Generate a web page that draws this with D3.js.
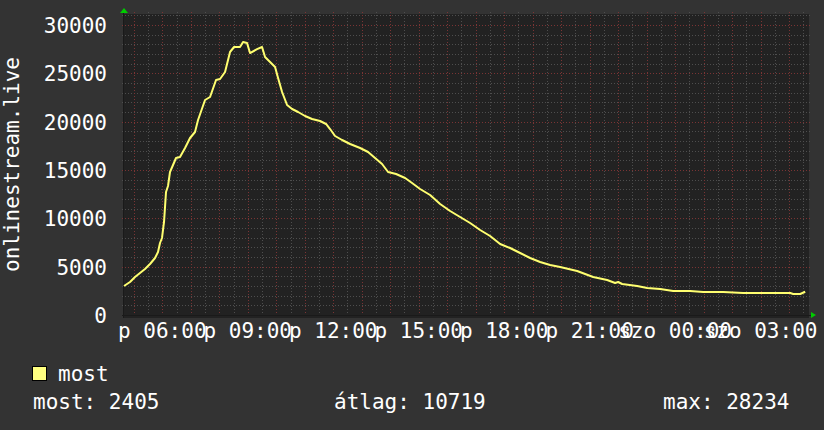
<!DOCTYPE html>
<html>
<head>
<meta charset="utf-8">
<script src="https://cdn.jsdelivr.net/npm/d3@7"></script>
<style>
  html, body { margin: 0; padding: 0; background: #333333; }
  svg { display: block; }
  text { font-family: "DejaVu Sans Mono", monospace; fill: #ffffff; }
</style>
</head>
<body>
<svg id="chart" width="824" height="430"></svg>
<script>
// ---- data ----
// time in hours since Friday 00:00 (values > 24 are Saturday)
const hours = [4.655, 4.866, 5.041, 5.217, 5.392, 5.568, 5.744, 5.849, 5.919, 5.989,
  6.060, 6.130, 6.200, 6.270, 6.376, 6.481, 6.621, 6.797, 6.973, 7.148,
  7.254, 7.500, 7.675, 7.886, 8.026, 8.202, 8.377, 8.518, 8.728, 8.834,
  8.974, 9.079, 9.325, 9.501, 9.606, 9.782, 9.958, 10.063, 10.204, 10.379,
  10.555, 10.766, 11.010, 11.256, 11.537, 11.748, 11.888, 12.064, 12.310, 12.591,
  12.942, 13.222, 13.468, 13.714, 13.925, 14.206, 14.522, 14.767, 15.048, 15.400,
  15.751, 16.102, 16.453, 16.804, 17.155, 17.506, 17.857, 18.208, 18.560, 18.911,
  19.262, 19.613, 19.964, 20.561, 21.123, 21.614, 21.895, 22.000, 22.141, 22.668,
  23.019, 23.475, 23.932, 24.529, 24.985, 25.688, 26.390, 26.987, 28.040, 28.146,
  28.392, 28.567];
const values = [3000, 3414, 3931, 4345, 4759, 5276, 5897, 6517, 7448, 7966,
  9621, 12724, 13345, 14793, 15517, 16242, 16345, 17276, 18311, 18931,
  20172, 22241, 22552, 24310, 24414, 25138, 27207, 27724, 27724, 28234,
  28130, 27100, 27500, 27724, 26690, 26172, 25655, 24517, 23069, 21724,
  21310, 21000, 20586, 20276, 20069, 19759, 19241, 18517, 18103, 17690,
  17276, 16862, 16242, 15621, 14793, 14586, 14172, 13655, 13034, 12414,
  11483, 10759, 10138, 9517, 8793, 8173, 7345, 6931, 6414, 5897,
  5483, 5172, 4966, 4552, 3931, 3621, 3310, 3414, 3207, 3000,
  2793, 2690, 2483, 2483, 2379, 2379, 2276, 2276, 2276, 2172,
  2172, 2405];

const yTicks = [0, 5000, 10000, 15000, 20000, 25000, 30000];
const xLabelHours = [6, 9, 12, 15, 18, 21, 24, 27];
const xLabels = ["p 06:00", "p 09:00", "p 12:00", "p 15:00", "p 18:00", "p 21:00", "szo 00:00", "szo 03:00"];
const yTitle = "onlinestream.live";
const seriesName = "most";
const legendStats = ["most: 2405", "átlag: 10719", "max: 28234"];

// ---- layout ----
const svg = d3.select("#chart");
const plot = { left: 124, right: 809, top: 14, bottom: 315 };

const x = d3.scaleLinear().domain([4.655, 28.70]).range([plot.left, plot.right]);
const y = d3.scaleLinear().domain([0, 30000]).range([plot.bottom, 25]);

// plot background
svg.append("rect")
  .attr("x", plot.left).attr("y", plot.top)
  .attr("width", plot.right - plot.left).attr("height", plot.bottom - plot.top + 3)
  .attr("fill", "#222222");

// minor grid
const minorY = d3.range(0, 31001, 1000).filter(v => v % 5000 !== 0);
const minorX = d3.range(4.5, 29, 0.5).filter(h => h % 1 !== 0 && x(h) > plot.left && x(h) < plot.right);
const majorX = d3.range(5, 29, 1).filter(h => x(h) > plot.left && x(h) < plot.right);

const grid = svg.append("g").attr("shape-rendering", "crispEdges");
grid.selectAll("line.hmin").data(minorY).join("line")
  .attr("x1", plot.left - 2).attr("x2", plot.right + 3)
  .attr("y1", d => Math.round(y(d)) + 0.5).attr("y2", d => Math.round(y(d)) + 0.5)
  .attr("stroke", "#4e4e4e").attr("stroke-dasharray", "1,2");
grid.selectAll("line.vmin").data(minorX).join("line")
  .attr("y1", plot.top - 2).attr("y2", plot.bottom + 3)
  .attr("x1", d => Math.round(x(d)) + 0.5).attr("x2", d => Math.round(x(d)) + 0.5)
  .attr("stroke", "#4e4e4e").attr("stroke-dasharray", "1,2");
grid.selectAll("line.hmaj").data(yTicks.filter(v => v > 0)).join("line")
  .attr("x1", plot.left - 2).attr("x2", plot.right + 3)
  .attr("y1", d => Math.round(y(d)) + 0.5).attr("y2", d => Math.round(y(d)) + 0.5)
  .attr("stroke", "#7a3434").attr("stroke-dasharray", "1,2");
grid.selectAll("line.vmaj").data(majorX).join("line")
  .attr("y1", plot.top - 2).attr("y2", plot.bottom + 3)
  .attr("x1", d => Math.round(x(d)) + 0.5).attr("x2", d => Math.round(x(d)) + 0.5)
  .attr("stroke", "#7a3434").attr("stroke-dasharray", "1,2");

// axes lines
grid.append("line").attr("x1", plot.left - 2).attr("x2", plot.right + 3)
  .attr("y1", plot.bottom + 0.5).attr("y2", plot.bottom + 0.5).attr("stroke", "#1a1a1a");
grid.append("line").attr("x1", plot.left - 0.5).attr("x2", plot.left - 0.5)
  .attr("y1", plot.top - 2).attr("y2", plot.bottom + 3).attr("stroke", "#1a1a1a");

// arrows
svg.append("path").attr("d", `M${plot.left - 4},13 L${plot.left + 4},13 L${plot.left},8 Z`).attr("fill", "#00cc00");
svg.append("path").attr("d", `M811,${plot.bottom - 3} L811,${plot.bottom + 3} L816,${plot.bottom} Z`).attr("fill", "#00cc00");

// y tick labels
svg.selectAll("text.ytick").data(yTicks).join("text")
  .attr("x", 107).attr("y", d => y(d) + 8)
  .attr("text-anchor", "end").attr("font-size", 21)
  .text(d => d);

// x tick labels
svg.selectAll("text.xtick").data(xLabelHours).join("text")
  .attr("x", d => x(d)).attr("y", 338)
  .attr("text-anchor", "middle").attr("font-size", 21)
  .text((d, i) => xLabels[i]);

// y title
svg.append("text")
  .attr("transform", `translate(19,${(plot.top + plot.bottom) / 2}) rotate(-90)`)
  .attr("text-anchor", "middle").attr("font-size", 21)
  .text(yTitle);

// series line
const pts = hours.map((h, i) => [h, values[i]]);
svg.append("path")
  .datum(pts)
  .attr("d", d3.line().x(d => x(d[0])).y(d => y(d[1])))
  .attr("fill", "none").attr("stroke", "#ffff70").attr("stroke-width", 2)
  .attr("stroke-linejoin", "round");

// legend
svg.append("rect").attr("x", 32.5).attr("y", 366.5).attr("width", 14).attr("height", 14)
  .attr("fill", "#ffff80").attr("stroke", "#000000").attr("stroke-width", 1);
svg.append("text").attr("x", 58).attr("y", 381).attr("font-size", 21).text(seriesName);
const statX = [33, 334, 663];
svg.selectAll("text.stat").data(legendStats).join("text")
  .attr("x", (d, i) => statX[i]).attr("y", 409).attr("font-size", 21)
  .text(d => d);
</script>
</body>
</html>
